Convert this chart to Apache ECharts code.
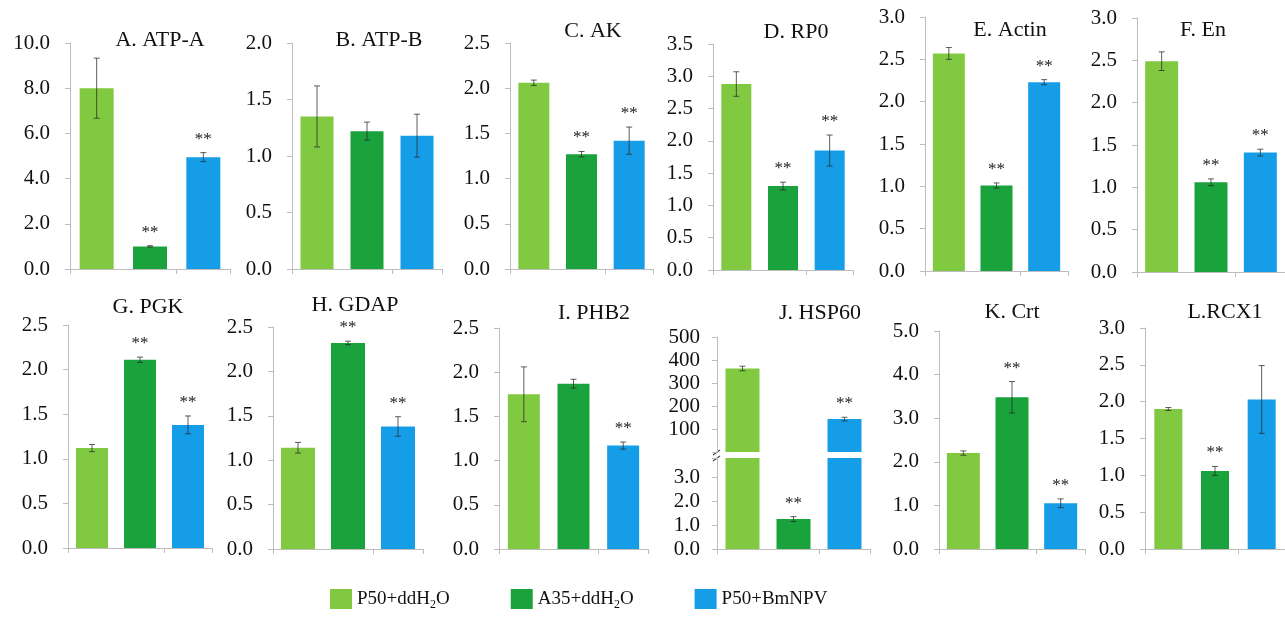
<!DOCTYPE html>
<html><head><meta charset="utf-8">
<script src="https://cdn.jsdelivr.net/npm/echarts@6/dist/echarts.min.js"></script>
<style>html,body{margin:0;padding:0;background:#fff}#c{width:1285px;height:617px}</style>
</head><body><div id="c"></div>
<script>
// ---------- DATA ----------
const groups = ['P50+ddH2O', 'A35+ddH2O', 'P50+BmNPV'];
const panelTitles = ['A. ATP-A','B. ATP-B','C. AK','D. RP0','E. Actin','F. En','G. PGK','H. GDAP','I. PHB2','J. HSP60','K. Crt','L.RCX1'];
const p50Water    = [8.0, 1.35, 2.06, 2.88, 2.57, 2.49, 1.12, 1.14, 1.75, 363, 2.20, 1.90];
const p50WaterErr = [1.33, 0.27, 0.03, 0.19, 0.07, 0.11, 0.04, 0.06, 0.31, 10, 0.05, 0.02];
const a35Water    = [1.0, 1.22, 1.27, 1.30, 1.01, 1.06, 2.11, 2.32, 1.87, 1.25, 3.48, 1.06];
const a35WaterErr = [0.03, 0.08, 0.03, 0.06, 0.03, 0.04, 0.03, 0.02, 0.05, 0.10, 0.36, 0.06];
const p50Virus    = [4.95, 1.18, 1.42, 1.85, 2.23, 1.41, 1.38, 1.38, 1.17, 143, 1.05, 2.03];
const p50VirusErr = [0.20, 0.19, 0.15, 0.24, 0.03, 0.04, 0.10, 0.11, 0.04, 8, 0.10, 0.46];
const p50WaterSig = [0,0,0,0,0,0,0,0,0,0,0,0];
const a35WaterSig = [1,0,1,1,1,1,1,1,0,1,1,1];
const p50VirusSig = [1,0,1,1,1,1,1,1,1,1,1,0];
// axis ranges (J uses a broken axis: upper 0-500, lower 0-3.8)
const axisMax  = [10, 2, 2.5, 3.5, 3, 3, 2.5, 2.5, 2.5, 500, 5, 3];
const axisStep = [2, 0.5, 0.5, 0.5, 0.5, 0.5, 0.5, 0.5, 0.5, 100, 1, 0.5];
const jLowerMax = 3.8;
const jLowerStep = 1;

// ---------- LAYOUT ----------
const layout = [
  {l:70,  t:43,  w:160, h:226, bw:34, tx:160,  ty:40},
  {l:292, t:43,  w:150, h:226, bw:33, tx:379,  ty:40},
  {l:510, t:43,  w:143, h:226, bw:31, tx:593,  ty:31},
  {l:713, t:44,  w:140, h:226, bw:30, tx:796,  ty:32},
  {l:925, t:17,  w:143, h:254, bw:32, tx:1010, ty:30},
  {l:1137,t:18,  w:148, h:254, bw:33, tx:1203, ty:30},
  {l:68,  t:325, w:144, h:223, bw:32, tx:148,  ty:307},
  {l:273, t:327, w:150, h:222, bw:34, tx:355,  ty:305},
  {l:499, t:328, w:149, h:221, bw:32, tx:594,  ty:313},
  {l:717, t:337, w:153, h:115, bw:34, tx:820,  ty:313, lt:458, lh:91},
  {l:939, t:331, w:146, h:218, bw:33, tx:1012, ty:312},
  {l:1145,t:328, w:140, h:221, bw:28, tx:1225, ty:312}
];
const colors = ['#80C941', '#1AA33C', '#169DE8'];
const valueSets = [p50Water, a35Water, p50Virus];
const errSets = [p50WaterErr, a35WaterErr, p50VirusErr];
const sigSets = [p50WaterSig, a35WaterSig, p50VirusSig];
const FONT = '"Liberation Serif", "Times New Roman", serif';

const grids = [], xAxes = [], yAxes = [], series = [], graphics = [];

function addGrid(left, top, width, height, max, step, fmt, showX, margin) {
  const gi = grids.length;
  grids.push({left, top, width, height, containLabel: false, outerBoundsMode: 'none'});
  xAxes.push({
    type: 'category', gridIndex: gi, data: groups, show: showX,
    axisLine: {show: true, lineStyle: {color: '#BDBDBD', width: 1}},
    axisTick: {show: true, length: 5, lineStyle: {color: '#BDBDBD'}},
    axisLabel: {show: false}, splitLine: {show: false}
  });
  yAxes.push({
    type: 'value', gridIndex: gi, min: 0, max: max, interval: step,
    axisLine: {show: true, lineStyle: {color: '#BDBDBD', width: 1}},
    axisTick: {show: true, length: 5, lineStyle: {color: '#BDBDBD'}},
    splitLine: {show: false},
    axisLabel: {formatter: fmt, fontFamily: FONT, fontSize: 21, color: '#111', margin: margin}
  });
  return gi;
}

function errSeries(gi, items) {
  return {
    type: 'custom', xAxisIndex: gi, yAxisIndex: gi, z: 5, silent: true,
    data: items,
    renderItem: function (params, api) {
      const x = api.value(0), m = api.value(1), e = api.value(2), s = api.value(3);
      const top = api.coord([x, m + e]);
      const bot = api.coord([x, m - e]);
      const cw = 3;
      const st = {stroke: 'rgba(40,40,40,0.75)', lineWidth: 1};
      const children = [
        {type: 'line', shape: {x1: top[0], y1: top[1], x2: bot[0], y2: bot[1]}, style: st},
        {type: 'line', shape: {x1: top[0] - cw, y1: top[1], x2: top[0] + cw, y2: top[1]}, style: st},
        {type: 'line', shape: {x1: bot[0] - cw, y1: bot[1], x2: bot[0] + cw, y2: bot[1]}, style: st}
      ];
      if (s) {
        children.push({type: 'text', x: top[0], y: top[1] - 5,
          style: {text: '**', font: '17px ' + FONT, align: 'center', verticalAlign: 'bottom',
                  textAlign: 'center', textVerticalAlign: 'bottom', fill: '#222'}});
      }
      return {type: 'group', children: children};
    }
  };
}

function barSeries(gi, k, vals, bw) {
  return {
    type: 'bar', name: groups[k], xAxisIndex: gi, yAxisIndex: gi,
    barWidth: bw, barGap: '-100%', clip: true,
    itemStyle: {color: colors[k]},
    data: groups.map((_, c) => (c === k && vals[c] !== undefined ? vals[c] : '-'))
  };
}

const fmt1 = v => v.toFixed(1);

for (let i = 0; i < 12; i++) {
  const L = layout[i];
  graphics.push({type: 'text', x: L.tx, y: L.ty, silent: true,
    style: {text: panelTitles[i], font: '22px ' + FONT, fill: '#111',
            align: 'center', verticalAlign: 'middle', textAlign: 'center', textVerticalAlign: 'middle'}});
  if (i !== 9) {
    const gi = addGrid(L.l, L.t, L.w, L.h, axisMax[i], axisStep[i], fmt1, true, 20);
    for (let k = 0; k < 3; k++) {
      const vals = [];
      vals[k] = valueSets[k][i];
      series.push(barSeries(gi, k, vals, L.bw));
    }
    series.push(errSeries(gi, groups.map((_, k) => [k, valueSets[k][i], errSets[k][i], sigSets[k][i]])));
  } else {
    // broken axis: upper segment
    const gu = addGrid(L.l, L.t, L.w, L.h, axisMax[i], axisStep[i], v => (v === 0 ? '' : String(v)), false, 17);
    xAxes[gu].show = false;
    const gl = addGrid(L.l, L.lt, L.w, L.lh, jLowerMax, jLowerStep,
      v => (Math.abs(v - Math.round(v)) < 1e-9 ? v.toFixed(1) : ''), true, 17);
    const upperItems = [], lowerItems = [];
    for (let k = 0; k < 3; k++) {
      const v = valueSets[k][i];
      const up = [], low = [];
      low[k] = v;
      if (v > jLowerMax) up[k] = v;
      series.push(barSeries(gu, k, up, L.bw));
      series.push(barSeries(gl, k, low, L.bw));
      const item = [k, v, errSets[k][i], sigSets[k][i]];
      if (v > jLowerMax) upperItems.push(item); else lowerItems.push(item);
    }
    series.push(errSeries(gu, upperItems));
    series.push(errSeries(gl, lowerItems));
    // break marks on the axis
    const bx = L.l;
    const by = (L.t + L.h + L.lt) / 2;
    graphics.push({type: 'line', silent: true, shape: {x1: bx - 4, y1: by, x2: bx + 3, y2: by - 5}, style: {stroke: '#444', lineWidth: 1.2}});
    graphics.push({type: 'line', silent: true, shape: {x1: bx - 4, y1: by + 6, x2: bx + 3, y2: by + 1}, style: {stroke: '#444', lineWidth: 1.2}});
  }
}

const chart = echarts.init(document.getElementById('c'), null, {renderer: 'canvas'});
chart.setOption({
  backgroundColor: '#fff',
  animation: false,
  grid: grids, xAxis: xAxes, yAxis: yAxes, series: series,
  graphic: graphics,
  legend: {
    data: groups, left: 325, top: 584, itemWidth: 22, itemHeight: 20, itemGap: 61,
    icon: 'rect', selectedMode: false,
    formatter: function (name) {
      const m = name.match(/^(.*)H2O$/);
      if (m) return '{n|' + m[1] + 'H}{s|2}{n|O}';
      return '{n|' + name + '}';
    },
    textStyle: {
      fontFamily: FONT, fontSize: 19, color: '#111',
      rich: {
        n: {fontFamily: FONT, fontSize: 19, color: '#111', lineHeight: 24},
        s: {fontFamily: FONT, fontSize: 12, color: '#111', lineHeight: 24, verticalAlign: 'bottom', padding: [10, 0, 0, 0]}
      }
    }
  }
});
</script></body></html>
